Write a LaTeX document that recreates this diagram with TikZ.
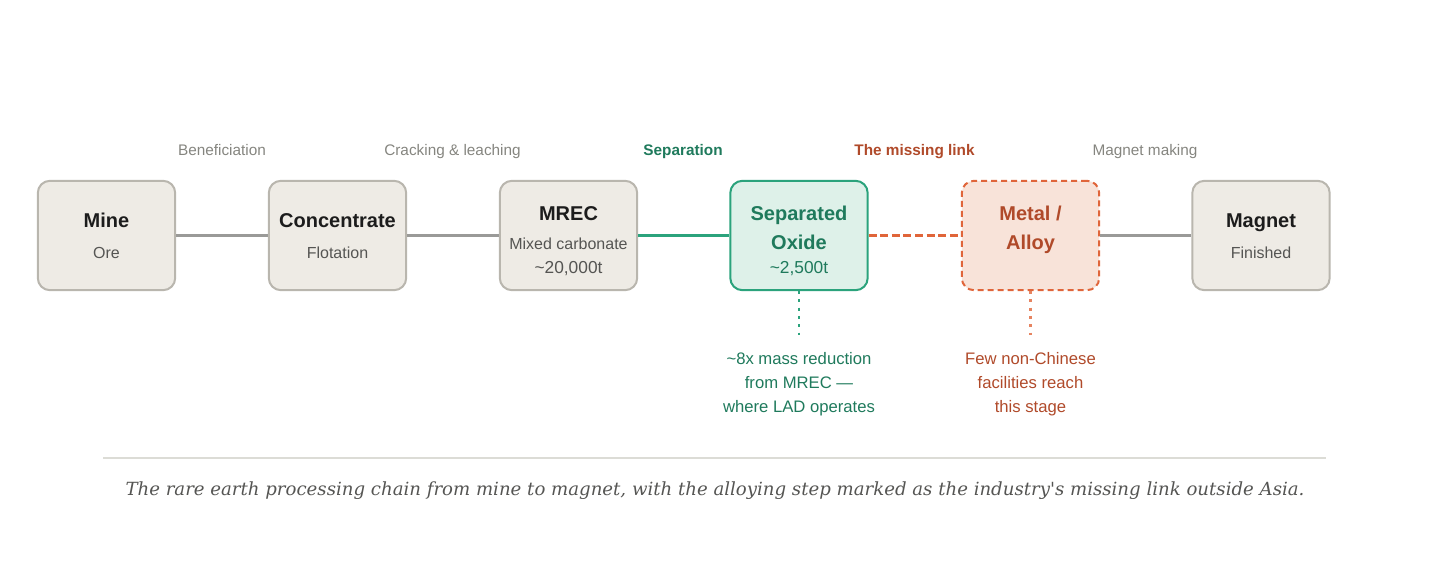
\documentclass[tikz,border=0pt]{standalone}
\usepackage{fontspec}
\setmainfont{Liberation Sans}
\newfontfamily\capfont{DejaVu Serif}
\usepackage{xcolor}
\usetikzlibrary{positioning}

\definecolor{boxfill}{HTML}{EEEBE5}
\definecolor{boxline}{HTML}{B9B6AE}
\definecolor{linkgray}{HTML}{9A9A98}
\definecolor{stagegray}{HTML}{85857F}
\definecolor{subgray}{HTML}{555553}
\definecolor{titleblack}{HTML}{1C1C1C}
\definecolor{sepgreen}{HTML}{1F7A5C}
\definecolor{sepline}{HTML}{2BA37C}
\definecolor{sepfill}{HTML}{DEF1E9}
\definecolor{alloyred}{HTML}{B04A2A}
\definecolor{alloyline}{HTML}{E0653A}
\definecolor{alloyfill}{HTML}{F8E3D9}
\definecolor{capgray}{HTML}{555553}
\definecolor{rulegray}{HTML}{DCDCD6}

\begin{document}
\begin{tikzpicture}[x=0.75pt,y=-0.75pt,
  stagebox/.style={rounded corners=9pt, line width=1.5pt, draw=boxline, fill=boxfill,
    minimum width=103pt, minimum height=82pt, inner sep=0pt},
  sepbox/.style={stagebox, draw=sepline, fill=sepfill},
  alloybox/.style={stagebox, draw=alloyline, fill=alloyfill, dash pattern=on 4.5pt off 3pt},
  title/.style={anchor=base, inner sep=0pt, font=\fontsize{15}{18}\selectfont\bfseries, text=titleblack},
  sub/.style={anchor=base, inner sep=0pt, font=\fontsize{12}{14}\selectfont, text=subgray},
  stage/.style={anchor=base, inner sep=0pt, font=\fontsize{11.5}{14}\selectfont, text=stagegray},
  note/.style={anchor=north, inner sep=0pt, align=center, font=\fontsize{12.5}{18}\selectfont},
  grayline/.style={draw=linkgray, line width=2.2pt},
  dots/.style={line width=1.8pt, dash pattern=on 2.2pt off 4pt}
]
\useasboundingbox (0,0) rectangle (1430,571);

% the six stages, left to right
\node[stagebox] (mine)   at (106.5,235.5) {};
\node[stagebox] (conc)   at (337.5,235.5) {};
\node[stagebox] (mrec)   at (568.5,235.5) {};
\node[sepbox]   (sep)    at (799,235.5) {};
\node[alloybox] (alloy)  at (1030.5,235.5) {};
\node[stagebox] (magnet) at (1261,235.5) {};

% box texts
\node[title] (mineT) at (106.5,227) {Mine};
\node[sub]   (mineS) at (106.5,258) {Ore};
\node[title] (concT) at (337.5,227) {Concentrate};
\node[sub]   (concS) at (337.5,258) {Flotation};
\node[title] (mrecT)  at (568.5,220) {MREC};
\node[sub]   (mrecS)  at (568.5,249) {Mixed carbonate};
\node[sub, font=\fontsize{13}{15}\selectfont] (mrecQ) at (568.5,273) {\textasciitilde 20,000t};
\node[title, text=sepgreen] (sepT)  at (799,220.5) {Separated};
\node[title, text=sepgreen] (sepT2) at (799,249) {Oxide};
\node[sub, text=sepgreen, font=\fontsize{13}{15}\selectfont] (sepQ) at (799,273) {\textasciitilde 2,500t};
\node[title, text=alloyred] (alloyT)  at (1030.5,220) {Metal /};
\node[title, text=alloyred] (alloyT2) at (1030.5,249) {Alloy};
\node[title] (magnetT) at (1261,227) {Magnet};
\node[sub]   (magnetS) at (1261,258) {Finished};

% step names above the links
\node[stage] (benef) at (222,155) {Beneficiation};
\node[stage] (crack) at (452.5,155) {Cracking \& leaching};
\node[stage, text=sepgreen, font=\fontsize{11.5}{14}\selectfont\bfseries] (separ) at (683,155) {Separation};
\node[stage, text=alloyred, font=\fontsize{11.5}{14}\selectfont\bfseries] (missing) at (914.5,155) {The missing link};
\node[stage] (making) at (1145,155) {Magnet making};

% links
\foreach \a/\b in {mine/conc, conc/mrec, alloy/magnet}
  \draw[grayline] (\a) -- (\b);
\draw[draw=sepline, line width=2.2pt] (mrec) -- (sep);
\draw[draw=alloyline, line width=2.2pt, dash pattern=on 6pt off 2.7pt] (sep) -- (alloy);

% notes under the two highlighted stages
\node[note, text=sepgreen] (sepNote) at (799,352)
  {\textasciitilde 8x mass reduction\\from MREC ---\\where LAD operates};
\node[note, text=alloyred] (alloyNote) at (1030.5,352)
  {Few non-Chinese\\facilities reach\\this stage};
\draw[dots, draw=sepline] (sep) -- (sepNote) [shorten >=10pt];
\draw[dots, draw=alloyline!80] (alloy) -- (alloyNote) [shorten >=10pt];

% caption
\draw[rulegray, line width=1.2pt] (103,458) -- (1326,458);
\node[anchor=base, inner sep=0pt, text=capgray, font=\capfont\itshape\fontsize{13.6}{16}\selectfont] (caption) at (715,495)
  {The rare earth processing chain from mine to magnet, with the alloying step marked as the industry's missing link outside Asia.};
\end{tikzpicture}
\end{document}
